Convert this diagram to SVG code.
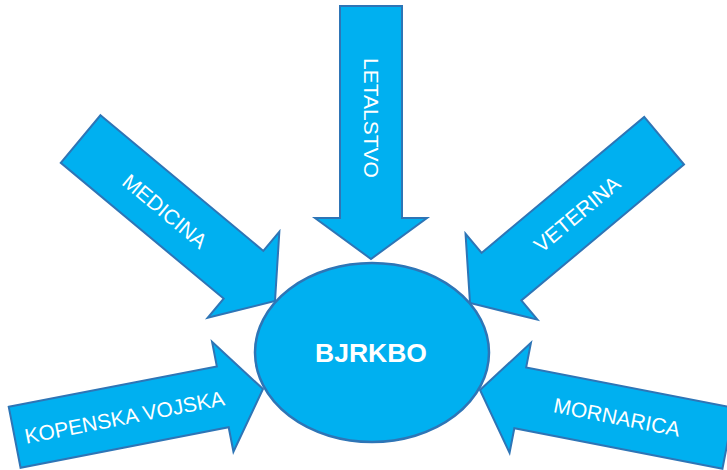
<svg xmlns="http://www.w3.org/2000/svg" width="727" height="470" viewBox="0 0 727 470">
  <style>
    .arrow { fill: #00B0F0; stroke: #2E75B6; stroke-width: 2; stroke-linejoin: miter; }
    .lbl { font-family: "Liberation Sans", Arial, sans-serif; font-size: 21px; fill: #FFFFFF; text-anchor: middle; }
    .hub { fill: #00B0F0; stroke: #2E75B6; stroke-width: 2.5; }
    .hubtxt { font-family: "Liberation Sans", Arial, sans-serif; font-size: 26.5px; font-weight: bold; fill: #FFFFFF; text-anchor: middle; }
  </style>
  <defs>
    <path id="blockArrow" d="M -253 -31 L -41 -31 L -41 -56 L 0 0 L -41 56 L -41 31 L -253 31 Z"/>
  </defs>
  <g id="letalstvo">
    <use href="#blockArrow" class="arrow" transform="translate(371,259) rotate(90)"/>
    <text class="lbl" transform="translate(371,118) rotate(90)" y="7.5">LETALSTVO</text>
  </g>
  <g id="medicina">
    <use href="#blockArrow" class="arrow" transform="translate(275,301) rotate(39.8)"/>
    <text class="lbl" transform="translate(165,211) rotate(39.8)" y="7.5">MEDICINA</text>
  </g>
  <g id="veterina">
    <use href="#blockArrow" class="arrow" transform="translate(470,303) rotate(140.1)"/>
    <text class="lbl" transform="translate(577,214) rotate(-39.9)" y="7.5">VETERINA</text>
  </g>
  <g id="kopenska-vojska">
    <use href="#blockArrow" class="arrow" transform="translate(263,389) rotate(-11)"/>
    <text class="lbl" transform="translate(124.5,417) rotate(-11)" y="7.5">KOPENSKA VOJSKA</text>
  </g>
  <g id="mornarica">
    <use href="#blockArrow" class="arrow" transform="translate(480,390) rotate(191)"/>
    <text class="lbl" transform="translate(617,417) rotate(11)" y="7.5">MORNARICA</text>
  </g>
  <g id="bjrkbo">
    <ellipse class="hub" cx="372" cy="352.5" rx="117" ry="89.5"/>
    <text class="hubtxt" x="371" y="362">BJRKBO</text>
  </g>
  <g id="connectors"/>
</svg>
